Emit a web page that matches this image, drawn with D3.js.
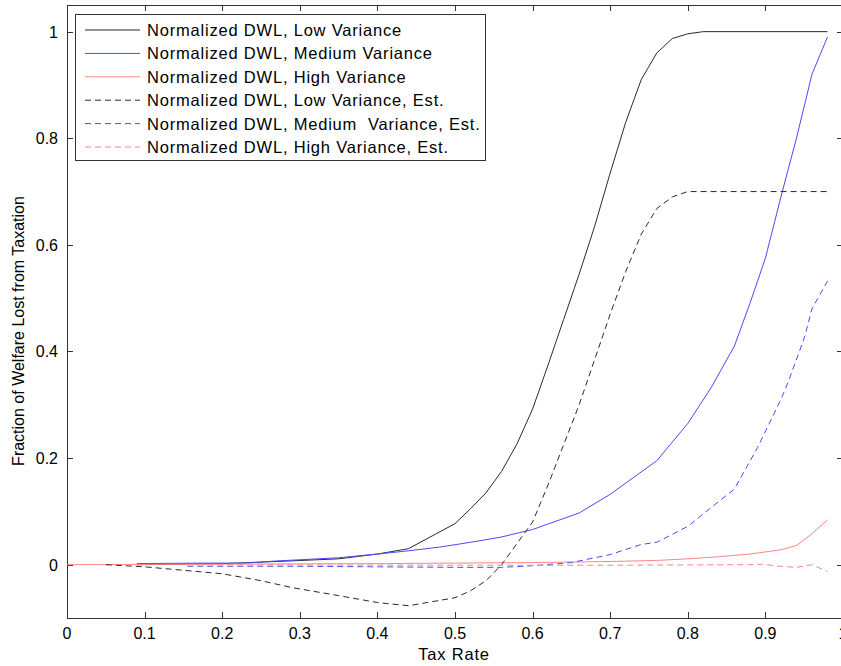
<!DOCTYPE html>
<meta charset="utf-8" />
<script src="https://d3js.org/d3.v7.js"></script>
<style>
  body { margin: 0; background: #fff; }
  text { font-family: "Liberation Sans", Arial, sans-serif; }
  .wide { font-size: 16.5px; letter-spacing: 0.8px; white-space: pre; }
</style>
<div id="chart"></div>
<script>
  // tax rate / fraction pairs
  const lowVar = [[0.09,0],[0.2,0.002],[0.27,0.006],[0.35,0.011],[0.4,0.02],[0.44,0.03],[0.5,0.077],[0.52,0.105],[0.54,0.135],[0.56,0.175],[0.58,0.227],[0.6,0.292],[0.62,0.375],[0.64,0.46],[0.66,0.545],[0.68,0.635],[0.7,0.735],[0.72,0.83],[0.74,0.91],[0.76,0.96],[0.78,0.987],[0.8,0.996],[0.82,1.0],[0.98,1.0]];
  const medVar = [[0.09,0.002],[0.17,0.003],[0.23,0.003],[0.27,0.007],[0.35,0.013],[0.4,0.02],[0.44,0.026],[0.48,0.033],[0.52,0.042],[0.56,0.052],[0.6,0.066],[0.66,0.097],[0.7,0.132],[0.76,0.195],[0.8,0.265],[0.83,0.332],[0.86,0.41],[0.88,0.49],[0.9,0.575],[0.92,0.69],[0.94,0.8],[0.96,0.92],[0.98,0.99]];
  const highVar = [[0,0],[0.2,0.001],[0.4,0.002],[0.5,0.003],[0.6,0.004],[0.7,0.006],[0.76,0.008],[0.8,0.011],[0.84,0.015],[0.88,0.02],[0.92,0.028],[0.94,0.036],[0.96,0.058],[0.98,0.084]];
  const lowEst = [[0.05,0],[0.1,-0.004],[0.2,-0.017],[0.25,-0.03],[0.29,-0.043],[0.35,-0.058],[0.4,-0.071],[0.44,-0.077],[0.5,-0.062],[0.52,-0.049],[0.54,-0.03],[0.56,0],[0.58,0.04],[0.6,0.08],[0.62,0.15],[0.64,0.225],[0.66,0.3],[0.68,0.385],[0.7,0.47],[0.72,0.55],[0.74,0.62],[0.76,0.668],[0.78,0.69],[0.8,0.7],[0.98,0.7]];
  const medEst = [[0.155,-0.003],[0.3,-0.003],[0.4,-0.004],[0.5,-0.005],[0.56,-0.005],[0.6,-0.002],[0.65,0.004],[0.7,0.019],[0.74,0.038],[0.76,0.042],[0.8,0.072],[0.86,0.142],[0.89,0.22],[0.92,0.31],[0.93,0.345],[0.95,0.425],[0.96,0.48],[0.98,0.532]];
  const highEst = [[0.155,0],[0.5,-0.001],[0.7,-0.001],[0.88,0],[0.9,0.001],[0.91,-0.002],[0.94,-0.005],[0.96,0],[0.98,-0.013]];

  const seriesNames = [
    "Normalized DWL, Low Variance",
    "Normalized DWL, Medium Variance",
    "Normalized DWL, High Variance",
    "Normalized DWL, Low Variance, Est.",
    "Normalized DWL, Medium  Variance, Est.",
    "Normalized DWL, High Variance, Est."
  ];
  const seriesData = [lowVar, medVar, highVar, lowEst, medEst, highEst];
  const xTicks = [0, 0.1, 0.2, 0.3, 0.4, 0.5, 0.6, 0.7, 0.8, 0.9, 1];
  const yTicks = [0, 0.2, 0.4, 0.6, 0.8, 1];

  const colors = ["#2a2a2a", "#4a4aff", "#ff8585", "#2a2a2a", "#4a4aff", "#ff8585"];
  const dashes = [null, null, null, "6,4", "6,4", "6,4"];

  const width = 841, height = 666;
  const plotL = 67, plotR = 843, plotT = 5, plotB = 618;

  const svg = d3.select("#chart").append("svg")
    .attr("width", width).attr("height", height);

  const x = d3.scaleLinear().domain([0, 1]).range([plotL, plotR]);
  const y = d3.scaleLinear().domain([-0.1, 1.05]).range([plotB, plotT]);

  // box + ticks (inside, matlab style)
  const axisCol = "#333";
  svg.append("rect")
    .attr("x", plotL + 0.5).attr("y", plotT + 0.5)
    .attr("width", plotR - plotL).attr("height", plotB - plotT)
    .attr("fill", "none").attr("stroke", axisCol);

  const tickLen = 6;
  const g = svg.append("g");
  xTicks.forEach(function (t) {
    const px = Math.round(x(t)) + 0.5;
    g.append("line").attr("x1", px).attr("x2", px)
      .attr("y1", plotB).attr("y2", plotB - tickLen).attr("stroke", axisCol);
    g.append("line").attr("x1", px).attr("x2", px)
      .attr("y1", plotT).attr("y2", plotT + tickLen).attr("stroke", axisCol);
    g.append("text").attr("x", x(t)).attr("y", plotB + 21)
      .attr("text-anchor", "middle").style("font-size", "16px")
      .text(t);
  });
  yTicks.forEach(function (t) {
    const py = Math.round(y(t)) + 0.5;
    g.append("line").attr("x1", plotL).attr("x2", plotL + tickLen)
      .attr("y1", py).attr("y2", py).attr("stroke", axisCol);
    g.append("line").attr("x1", plotR).attr("x2", plotR - tickLen)
      .attr("y1", py).attr("y2", py).attr("stroke", axisCol);
    g.append("text").attr("x", plotL - 9).attr("y", y(t) + 6)
      .attr("text-anchor", "end").style("font-size", "16px")
      .text(t);
  });

  svg.append("text").attr("class", "wide").attr("x", 454).attr("y", 660)
    .attr("text-anchor", "middle").text("Tax Rate");
  svg.append("text")
    .attr("transform", "translate(24,331) rotate(-90)")
    .attr("text-anchor", "middle").style("font-size", "16px")
    .text("Fraction of Welfare Lost from Taxation");

  const line = d3.line().x(d => x(d[0])).y(d => y(d[1]));

  seriesData.forEach(function (s, i) {
    svg.append("path").datum(s)
      .attr("d", line)
      .attr("fill", "none")
      .attr("stroke", colors[i])
      .attr("stroke-width", 1)
      .attr("stroke-dasharray", dashes[i]);
  });

  // legend
  const lg = svg.append("g");
  lg.append("rect").attr("x", 75.5).attr("y", 14.5)
    .attr("width", 410).attr("height", 146)
    .attr("fill", "#fff").attr("stroke", axisCol);
  seriesNames.forEach(function (name, i) {
    const ly = 30 + i * 23.4;
    lg.append("line").attr("x1", 85).attr("x2", 140)
      .attr("y1", ly).attr("y2", ly)
      .attr("stroke", colors[i]).attr("stroke-dasharray", dashes[i]);
    lg.append("text").attr("class", "wide").attr("x", 147).attr("y", ly + 6)
      .text(name);
  });
</script>
